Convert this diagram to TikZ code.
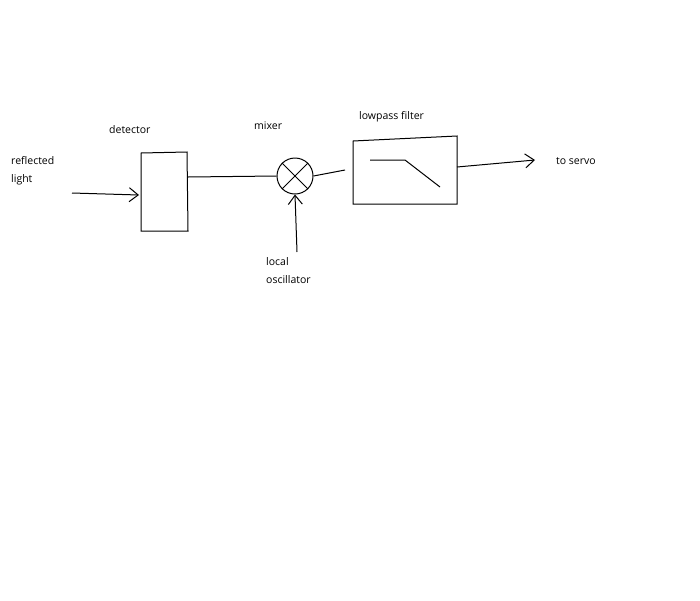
\documentclass[tikz,border=0pt]{standalone}
\usepackage{fontspec}
\setmainfont{Open Sans}
\usetikzlibrary{arrows.meta}
\begin{document}
\begin{tikzpicture}[x=1pt,y=-1pt,
  lbl/.style={font=\fontsize{10.5}{18}\selectfont,anchor=west,inner sep=0pt,align=left},
  ln/.style={line width=1pt},
  arr/.style={ln,-{Straight Barb[length=9pt,width=14pt]}}]
\useasboundingbox (0,0) rectangle (700,600);
\fill[white] (0,0) rectangle (700,600);
\node[lbl,anchor=north west] (rl) at (11,156) {reflected\\light};
\coordinate (rin) at (72,193);
\draw[ln] (141,153) -- (187,152) -- (188,231) -- (141,231) -- cycle;
\node (det) at (164,192) {};
\coordinate (detin) at (139,195);
\draw[arr] (rin) -- (detin);
\node[lbl] (detl) at (109,130) {detector};
\node[ln,draw,circle,minimum size=36pt,inner sep=0pt] (mix) at (295,176) {};
\draw[ln] (mix.north west) -- (mix.south east) (mix.north east) -- (mix.south west);
\node[lbl] (mixl) at (254,126) {mixer};
\draw[ln] (188,177) -- (mix.west);
\draw[ln] (353,141) -- (457,136) -- (457,204) -- (353,204) -- cycle;
\node (filt) at (405,170) {};
\draw[ln] (370,160) -- (405,160) -- (440,187);
\node[lbl] (filtl) at (359,117) {lowpass filter};
\draw[ln] (mix.east) -- (345,170);
\coordinate (out) at (535,160);
\draw[arr] (457,167) -- (out);
\node[lbl] (servo) at (556,161) {to servo};
\coordinate (lo) at (297,252);
\draw[arr] (lo) -- (mix.south);
\node[lbl,anchor=north west] (lol) at (266,257) {local\\oscillator};
\end{tikzpicture}
\end{document}
